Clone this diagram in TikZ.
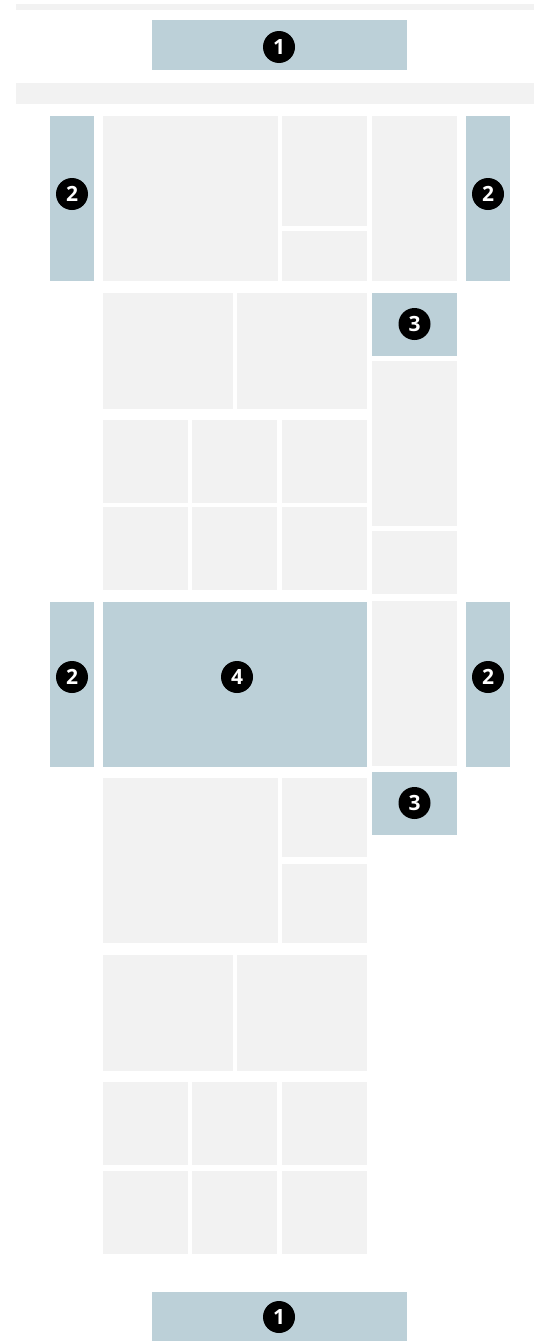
\documentclass[tikz,border=0pt]{standalone}
\usepackage{fontspec}
\newfontfamily\numfont{Open Sans}
\definecolor{bluegray}{HTML}{BCD0D8}
\definecolor{lightgray}{HTML}{F2F2F2}
\newcommand{\bx}[6]{%
  \node[#6, minimum width={(#4)-(#2)}, minimum height={(#5)-(#3)}] (#1) at ({((#2)+(#4))/2},{((#3)+(#5))/2}) {};}
\tikzset{
  graybox/.style={fill=lightgray, draw=none, inner sep=0pt, outer sep=0pt, rectangle},
  bluebox/.style={fill=bluegray, draw=none, inner sep=0pt, outer sep=0pt, rectangle},
  badge/.style={circle, fill=black, draw=none, minimum size=32pt, inner sep=0pt, text=white, font=\numfont\bfseries\fontsize{21}{21}\selectfont},
}
\begin{document}
\begin{tikzpicture}[x=1pt,y=-1pt]
\useasboundingbox (0,0) rectangle (534,1341);
% top strips
\bx{topbar}{16}{4}{534}{10}{graybox}
\bx{band}{16}{83}{534}{104}{graybox}
\bx{hdr}{152}{20}{407}{70}{bluebox}
% section 1
\bx{sideLa}{50}{116}{94}{281}{bluebox}
\bx{sideRa}{466}{116}{510}{281}{bluebox}
\bx{a1}{103}{116}{278}{281}{graybox}
\bx{a2}{282}{116}{367}{226}{graybox}
\bx{a3}{282}{231}{367}{281}{graybox}
\bx{a4}{372}{116}{457}{281}{graybox}
% section 2
\bx{b1}{103}{293}{233}{409}{graybox}
\bx{b2}{237}{293}{367}{409}{graybox}
\bx{adA}{372}{293}{457}{356}{bluebox}
\bx{r1}{372}{361}{457}{526}{graybox}
\bx{r2}{372}{531}{457}{594}{graybox}
\bx{c1}{103}{420}{188}{503}{graybox}
\bx{c2}{192}{420}{277}{503}{graybox}
\bx{c3}{282}{420}{367}{503}{graybox}
\bx{c4}{103}{507}{188}{590}{graybox}
\bx{c5}{192}{507}{277}{590}{graybox}
\bx{c6}{282}{507}{367}{590}{graybox}
% section 3
\bx{sideLb}{50}{602}{94}{767}{bluebox}
\bx{sideRb}{466}{602}{510}{767}{bluebox}
\bx{feat}{103}{602}{367}{767}{bluebox}
\bx{r3}{372}{601}{457}{766}{graybox}
\bx{adB}{372}{772}{457}{835}{bluebox}
% section 4
\bx{d1}{103}{778}{278}{943}{graybox}
\bx{d2}{282}{778}{367}{857}{graybox}
\bx{d3}{282}{864}{367}{943}{graybox}
\bx{e1}{103}{955}{233}{1071}{graybox}
\bx{e2}{237}{955}{367}{1071}{graybox}
\bx{f1}{103}{1082}{188}{1165}{graybox}
\bx{f2}{192}{1082}{277}{1165}{graybox}
\bx{f3}{282}{1082}{367}{1165}{graybox}
\bx{f4}{103}{1171}{188}{1254}{graybox}
\bx{f5}{192}{1171}{277}{1254}{graybox}
\bx{f6}{282}{1171}{367}{1254}{graybox}
\bx{ftr}{152}{1292}{407}{1341}{bluebox}
% badges
\node[badge] (n1a) at (279,47) {1};
\node[badge] (n2a) at (72,194) {2};
\node[badge] (n2b) at (488,194) {2};
\node[badge] (n3a) at (414.5,324) {3};
\node[badge] (n2c) at (72,677) {2};
\node[badge] (n4) at (237,677) {4};
\node[badge] (n2d) at (488,677) {2};
\node[badge] (n3b) at (414.5,803) {3};
\node[badge] (n1b) at (279,1317) {1};
\end{tikzpicture}
\end{document}
